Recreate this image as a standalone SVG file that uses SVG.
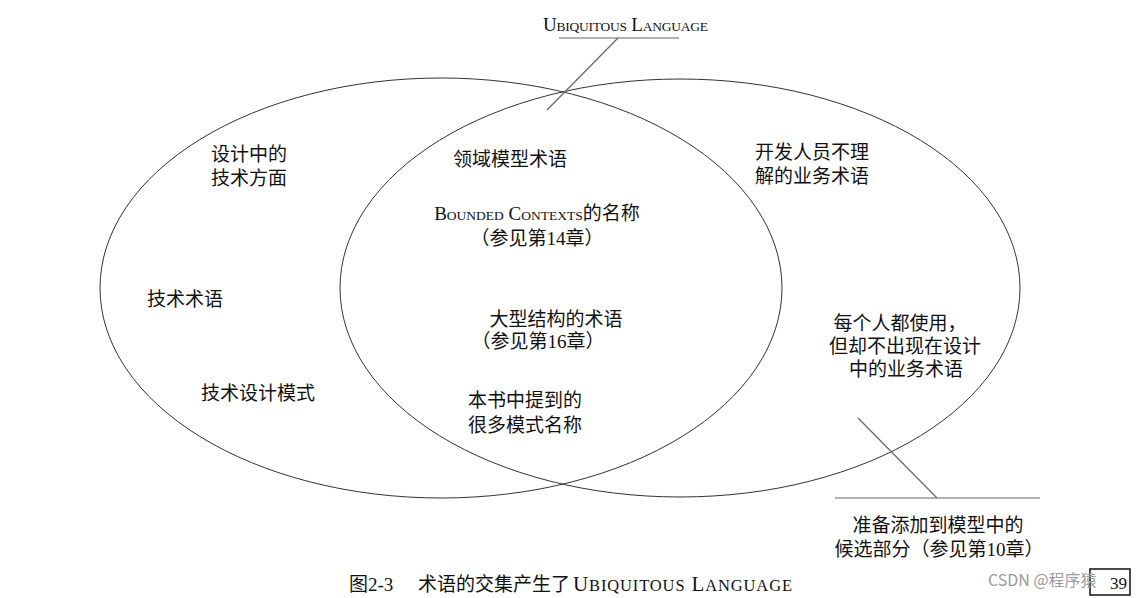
<svg xmlns="http://www.w3.org/2000/svg" width="1136" height="598" viewBox="0 0 1136 598">
<style>
.t{font-family:"Liberation Serif","Noto Sans CJK SC",serif;font-size:19px;fill:#111;text-anchor:middle}
.s{font-size:13.5px}
.cs{font-size:16.5px}
.e{fill:none;stroke:#333;stroke-width:1}
.l{fill:none;stroke:#666;stroke-width:1.2}
.wm{font-family:"Noto Sans CJK SC","Noto Sans",sans-serif;font-size:16px;fill:#9a9a9a}
</style>
<rect width="1136" height="598" fill="#fff"/>
<g id="left-set">
<ellipse class="e" cx="441" cy="288" rx="341" ry="210"/>
<text class="t" x="249" y="161">设计中的</text>
<text class="t" x="249" y="185">技术方面</text>
<text class="t" x="185" y="306">技术术语</text>
<text class="t" x="258" y="400">技术设计模式</text>
</g>
<g id="right-set">
<ellipse class="e" cx="680" cy="288" rx="340" ry="209"/>
<text class="t" x="812" y="159">开发人员不理</text>
<text class="t" x="812" y="183">解的业务术语</text>
<text class="t" x="900" y="330">每个人都使用，</text>
<text class="t" x="905" y="353">但却不出现在设计</text>
<text class="t" x="906" y="376">中的业务术语</text>
</g>
<g id="intersection">
<text class="t" x="510" y="166">领域模型术语</text>
<text class="t" x="537" y="220">B<tspan class="s">OUNDED</tspan> C<tspan class="s">ONTEXTS</tspan>的名称</text>
<text class="t" x="537" y="245">（参见第14章）</text>
<text class="t" x="556" y="326">大型结构的术语</text>
<text class="t" x="538" y="348">（参见第16章）</text>
<text class="t" x="525" y="407">本书中提到的</text>
<text class="t" x="525" y="432">很多模式名称</text>
</g>
<g id="ubiquitous-label">
<text class="t" x="543" y="31" style="text-anchor:start" textLength="165" lengthAdjust="spacing">U<tspan class="s">BIQUITOUS</tspan> L<tspan class="s">ANGUAGE</tspan></text>
</g>
<g id="candidates-label">
<text class="t" x="938" y="532">准备添加到模型中的</text>
<text class="t" x="939" y="556">候选部分（参见第10章）</text>
</g>
<g id="connectors">
<line class="l" x1="559" y1="38" x2="679" y2="38" stroke="#888"/>
<line class="l" x1="618" y1="38" x2="547" y2="110"/>
<line class="l" x1="858" y1="418" x2="937" y2="498"/>
<line class="l" x1="835" y1="498" x2="1040" y2="498"/>
</g>
<g id="caption">
<text class="t" x="349" y="591" style="text-anchor:start">图2-3</text>
<text class="t" x="418" y="591" style="text-anchor:start">术语的交集产生了</text>
<text class="t" x="573" y="591" style="text-anchor:start;font-size:21px" textLength="219" lengthAdjust="spacing">U<tspan class="cs">BIQUITOUS</tspan> L<tspan class="cs">ANGUAGE</tspan></text>
</g>
<g id="page-number">
<rect x="1090" y="569" width="40" height="26" fill="none" stroke="#111" stroke-width="1.5"/>
<text class="t" x="1127" y="589" style="text-anchor:end;font-size:17px">39</text>
</g>
<text class="wm" x="988" y="586">CSDN @程序猿</text>
</svg>
